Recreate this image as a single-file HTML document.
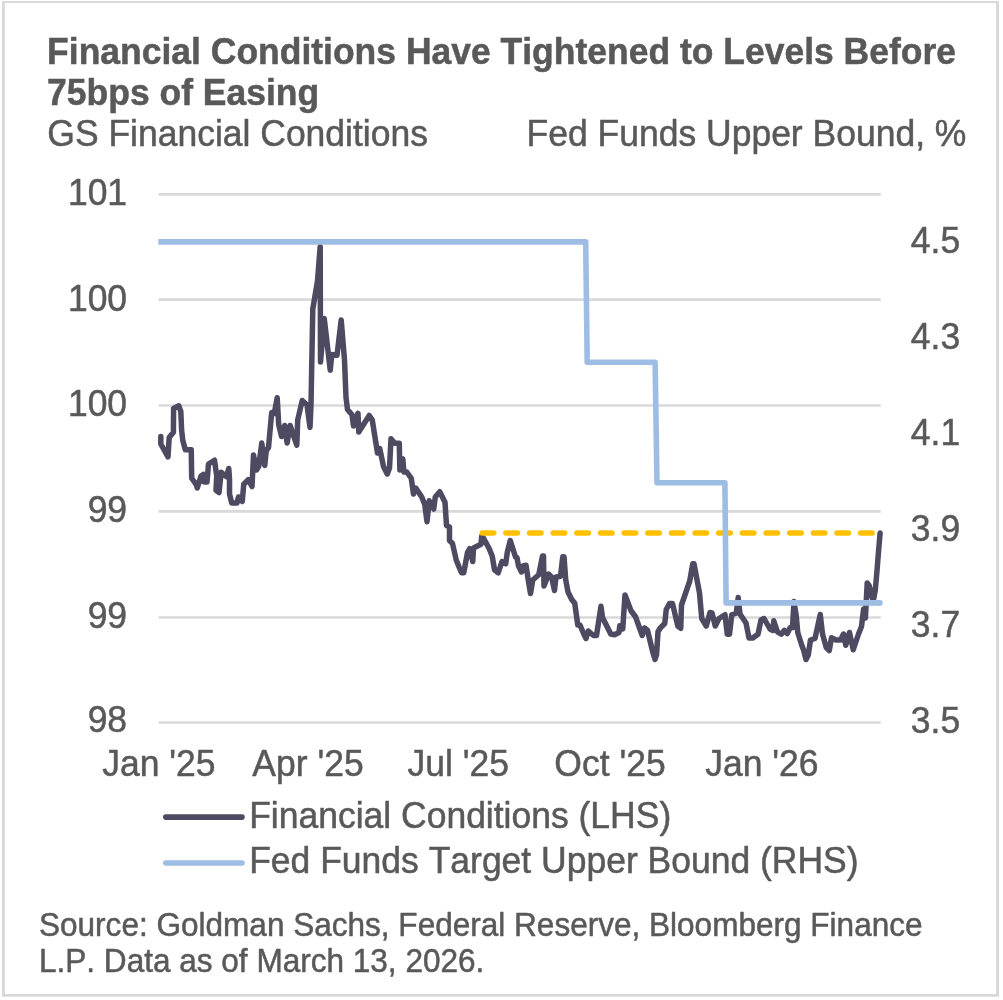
<!DOCTYPE html>
<html lang="en">
<head>
<meta charset="utf-8">
<title>Financial Conditions Have Tightened to Levels Before 75bps of Easing</title>
<style>
html,body{margin:0;padding:0;background:#fff;}
body{width:1003px;height:1000px;overflow:hidden;position:relative;}
svg{position:absolute;left:0;top:0;display:block;}
text{font-family:"Liberation Sans",sans-serif;fill:#595959;font-kerning:none;stroke:#595959;stroke-width:0.5px;stroke-linejoin:round;}
.t{font-size:35.5px;}
.b{font-size:35.5px;font-weight:bold;}
.s{font-size:31.56px;}
</style>
</head>
<body>
<svg width="1003" height="1000" viewBox="0 0 1003 1000">
<rect x="0" y="0" width="1003" height="1000" fill="#ffffff"/>
<path d="M2,1.1 H999 V996.8 H2 Z M4.85,3 V994 H996.1 V3 Z" fill="#d9d9d9" fill-rule="evenodd"/>

<text class="b" transform="translate(47.1,63.9) scale(1,1.015)">Financial Conditions Have Tightened to Levels Before</text>
<text class="b" transform="translate(47.1,104.8) scale(1,1.015)">75bps of Easing</text>
<text class="t" transform="translate(47.3,145.6) scale(1,1.03)">GS Financial Conditions</text>
<text class="t" transform="translate(966.4,145.6) scale(1,1.03)" text-anchor="end">Fed Funds Upper Bound, %</text>
<line x1="158.5" x2="880.7" y1="194.45" y2="194.45" stroke="#d9d9d9" stroke-width="2.7"/>
<line x1="158.5" x2="880.7" y1="299.55" y2="299.55" stroke="#d9d9d9" stroke-width="2.7"/>
<line x1="158.5" x2="880.7" y1="405.5" y2="405.5" stroke="#d9d9d9" stroke-width="2.7"/>
<line x1="158.5" x2="880.7" y1="511.45" y2="511.45" stroke="#d9d9d9" stroke-width="2.7"/>
<line x1="158.5" x2="880.7" y1="617.5" y2="617.5" stroke="#d9d9d9" stroke-width="2.7"/>
<line x1="158.5" x2="880.7" y1="722.5" y2="722.5" stroke="#d9d9d9" stroke-width="2.7"/>
<text class="t" transform="translate(127.1,205.0) scale(1,1.03)" text-anchor="end">101</text>
<text class="t" transform="translate(127.1,310.5) scale(1,1.03)" text-anchor="end">100</text>
<text class="t" transform="translate(127.1,415.9) scale(1,1.03)" text-anchor="end">100</text>
<text class="t" transform="translate(127.1,521.6) scale(1,1.03)" text-anchor="end">99</text>
<text class="t" transform="translate(127.1,627.7) scale(1,1.03)" text-anchor="end">99</text>
<text class="t" transform="translate(127.1,732.4) scale(1,1.03)" text-anchor="end">98</text>
<text class="t" transform="translate(910.8,253.0) scale(1,1.03)">4.5</text>
<text class="t" transform="translate(910.8,348.9) scale(1,1.03)">4.3</text>
<text class="t" transform="translate(910.8,444.8) scale(1,1.03)">4.1</text>
<text class="t" transform="translate(910.8,540.7) scale(1,1.03)">3.9</text>
<text class="t" transform="translate(910.8,636.6) scale(1,1.03)">3.7</text>
<text class="t" transform="translate(910.8,732.5) scale(1,1.03)">3.5</text>
<text class="t" transform="translate(158.9,775.8) scale(1,1.03)" text-anchor="middle">Jan '25</text>
<text class="t" transform="translate(308.0,775.8) scale(1,1.03)" text-anchor="middle">Apr '25</text>
<text class="t" transform="translate(458.3,775.8) scale(1,1.03)" text-anchor="middle">Jul '25</text>
<text class="t" transform="translate(610,775.8) scale(1,1.03)" text-anchor="middle">Oct '25</text>
<text class="t" transform="translate(761.8,775.8) scale(1,1.03)" text-anchor="middle">Jan '26</text>
<polyline fill="none" stroke="#4d4a62" stroke-width="5.5" stroke-linejoin="round" stroke-linecap="round" points="160.8,436.5 160.8,444 168,456.8 169.2,437.5 173.4,432.3 173.6,408.5 178.8,405.8 180.8,411.5 181.6,430 182.8,440.5 185.3,449.7 191.25,449.75 191.7,478.25 196.5,485 197.25,488 201,476 203.25,474.5 204,482 207,482 208.5,464 214.5,460.25 216.75,476 216,490.25 219,492.5 221.25,472.25 226.5,476.75 228.75,468.5 229.5,479 229.5,494 231.75,503 237,503 238.5,497 242.25,501.5 243.75,484.25 248.25,479.75 252,486.5 253.5,455 256.5,470 258.75,466.25 261.75,443 264.75,465.5 266.25,450.5 268.5,447.5 271.7,412.5 274.3,413.5 277.2,397.8 278.7,424.5 281.6,436.5 284.7,425.5 287.1,443 290.1,425.5 296.8,445.2 297.7,420 302.2,400.5 307,405 310,427.5 311.0,405 312.8,309 317.5,281 320.2,246.5 320.5,362 324.25,318.5 330.25,370.25 331.75,354.5 337,355.25 341.2,320 344.5,360 346,397.5 347.5,409.5 352,414.75 353.5,426 358,413.25 358.75,432 369.25,415.5 372.25,420 377.5,453 379.75,448.5 383.5,466.5 387.25,474 389.5,468 391,438.75 394.75,443.25 399.25,443.25 399.9,470 402.8,459 403.9,472 406.75,472 411.25,478.25 413.5,494 415.75,488 421.75,497 424.75,504.5 427,521.75 429.25,500.75 433.75,509 435.25,497 439.75,491.75 445,502.25 446.5,525.5 449.5,527 449.5,540.5 452.5,543.5 456.25,560 459.25,567.5 461.5,572.75 463.75,572.75 467.5,552.5 469.75,548.75 472.75,561.5 473.5,548 481,544.25 481.75,536 484,539 489.25,548.75 492.25,556.25 494.5,569.75 498.25,572.75 502,561.5 505.75,563.75 507.25,552.5 510.25,540.5 515.5,557 517,557.75 518.5,566 521.5,572 523,566 526,565.25 528.25,580 530.5,593.5 532.75,580 538.75,574.75 542.5,556 543.5,556 544,586 548.5,574 551.5,577 554.5,590.5 556,577 560.5,576.25 562.75,556.75 564,556.75 565.75,580 568,592 571.75,599.5 574.75,603.25 577.75,625 580,625 583.75,634 586,638.5 588.25,631 593.5,635.5 596.5,635.5 601,606.25 602.5,617.5 610.75,634 614.5,634.75 619,632.5 619.75,625.75 622.75,628.75 625,595 631,610.75 635.5,616.75 642.25,635.5 644.5,628 647.5,630.25 652.75,652 655,659.5 656.5,655 658,631.75 660.25,628 664.75,623.5 666.25,609.5 669.5,603.5 672.5,603.5 677.75,626 680.75,628.25 681.5,605 689.75,581 692.75,563.75 694,563.75 699.5,593 701.75,618.5 706.25,626 710,612.5 712,613 715.25,626 719,618.5 725,614.75 727.25,634.25 729.5,634.25 731.75,614.75 736.25,613.25 738.2,597.5 740,614 746,623 749,638 752.75,638 758,634.25 761,620 764,618.5 770,629 773,630.5 773.75,620.75 777.5,632 781.25,634.25 784.25,630.5 787.25,633.5 790.25,627.5 792.5,627.5 794,601.6 796.25,616 797.75,632.5 801.5,644.5 803.75,650.5 806,659.5 808.25,655 810.5,640 815,638.5 820.25,614.5 822.5,634 826.25,647.5 829.25,650.5 831.5,637.75 836,640 840.5,640 843.5,634 845.75,645.25 849.5,632.5 853.25,649.75 858.5,634 861.5,626.5 863.6,609 865.4,618 867.2,583 869.2,585.6 873.2,601.5 875.3,590 876.9,572 878.4,553 880.1,533"/>
<line x1="482.25" x2="878" y1="533" y2="533" stroke="#ffc000" stroke-width="5.5" stroke-linecap="round" stroke-dasharray="11.5 12.15"/>
<polyline fill="none" stroke="#9ebde4" stroke-width="5.6" stroke-linejoin="round" stroke-linecap="butt" points="158.3,241.9 585.7,241.9 587.2,362.2 655.1,362.2 657,482.7 724.9,482.7 726.1,602.9 880,602.9"/>
<circle cx="880" cy="602.9" r="2.8" fill="#9ebde4"/>
<line x1="165.8" x2="242" y1="817.1" y2="817.1" stroke="#4d4a62" stroke-width="5.6" stroke-linecap="round"/>
<text class="t" transform="translate(249.2,828) scale(1,1.03)">Financial Conditions (LHS)</text>
<line x1="165.8" x2="242" y1="863" y2="863" stroke="#9ebde4" stroke-width="5.6" stroke-linecap="round"/>
<text class="t" transform="translate(249.2,873) scale(1,1.03)">Fed Funds Target Upper Bound (RHS)</text>
<text class="s" transform="translate(39,935.8) scale(1,1.03)">Source: Goldman Sachs, Federal Reserve, Bloomberg Finance</text>
<text class="s" transform="translate(39,971.7) scale(1,1.03)">L.P. Data as of March 13, 2026.</text>
</svg>
</body>
</html>
